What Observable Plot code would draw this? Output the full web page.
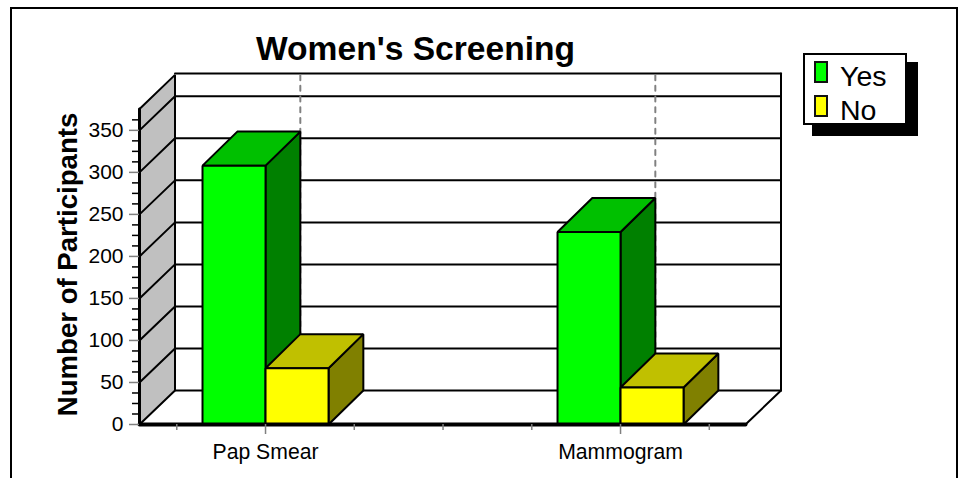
<!DOCTYPE html>
<html>
<head>
<meta charset="utf-8">
<script src="https://cdn.jsdelivr.net/npm/d3@7"></script>
<script src="https://cdn.jsdelivr.net/npm/@observablehq/plot@0.6"></script>
<style>
  html, body { margin: 0; padding: 0; background: #fff; width: 959px; height: 478px; overflow: hidden; }
  #wrap { position: relative; width: 959px; height: 478px; overflow: hidden; font-family: "Liberation Sans", Arial, sans-serif; }
  #frame { position: absolute; left: 10px; top: 7px; width: 944px; height: 500px; border: 2px solid #000; }
  #legend { position: absolute; left: 803px; top: 53px; width: 100px; height: 68px; border: 2px solid #000; background: #fff; box-shadow: 10px 10px 0 1px #000; }
  .sw { position: absolute; left: 9px; width: 10px; height: 18px; border: 2px solid #111; }
  .lb { position: absolute; left: 35px; font-size: 28.5px; line-height: 30px; color: #000; }
  svg { position: absolute; left: 0; top: 0; }
</style>
</head>
<body>
<div id="wrap"><div id="frame"></div></div>
<script>
const title = "Women's Screening";
const yLabel = "Number of Participants";
const categories = ["Pap Smear", "Mammogram"];
const yesValues = [308, 229];
const noValues = [67, 44];
const seriesNames = ["Yes", "No"];
const frontColors = ["#00ff00", "#ffff00"];
const topColors = ["#00c000", "#c0c000"];
const sideColors = ["#008000", "#808000"];
const majorTicks = [0, 50, 100, 150, 200, 250, 300, 350];
const minorTicks = [12.5, 25, 37.5, 62.5, 75, 87.5, 112.5, 125, 137.5, 162.5, 175, 187.5, 212.5, 225, 237.5, 262.5, 275, 287.5, 312.5, 325, 337.5, 362.5];
const xMinorTicks = [-0.25, 0.25, 0.5, 0.75, 1.25];

// Extents and 3D depth, in data units
const xMin = -0.355, xMax = 1.352, yTop = 377;
const depthX = 0.098, wallX = 0.1, depthY = 40.5, barW = 0.1775;
const ink = {stroke: "#000", strokeWidth: 2, strokeLinejoin: "miter"};

const poly = (pts, fill, extra = {}) =>
  Plot.line(pts, {x: "0", y: "1", fill, ...ink, curve: "linear-closed", ...extra});
const seg = (pts, extra = {}) =>
  Plot.line(pts, {x: "0", y: "1", ...ink, ...extra});

function box(x0, x1, v, i) {
  return [
    poly([[x1, 0], [x1 + depthX, depthY], [x1 + depthX, v + depthY], [x1, v]], sideColors[i]),
    poly([[x0, v], [x1, v], [x1 + depthX, v + depthY], [x0 + depthX, v + depthY]], topColors[i]),
    poly([[x0, 0], [x1, 0], [x1, v], [x0, v]], frontColors[i])
  ];
}

const backLevels = majorTicks.concat([yTop]);

const chart = Plot.plot({
  width: 959,
  height: 478,
  marginLeft: 139,
  marginRight: 214,
  marginTop: 108,
  marginBottom: 54,
  style: {background: "transparent", fontFamily: "'Liberation Sans', Arial, sans-serif", color: "#000"},
  x: {domain: [xMin, xMax]},
  y: {domain: [0, yTop - 1]},
  marks: [
    // left wall
    poly([[xMin, 0], [xMin + wallX, depthY], [xMin + wallX, yTop + depthY - 1.5], [xMin, yTop - 1.5]], "#c0c0c0"),
    // back wall gridlines and wall-side gridlines
    ...backLevels.map(v => seg([[xMin + wallX, v + depthY], [xMax + wallX, v + depthY]])),
    ...majorTicks.slice(1).map(v => seg([[xMin, v], [xMin + wallX, v + depthY]])),
    // right edge and floor edge
    seg([[xMax + wallX, depthY], [xMax + wallX, yTop + depthY]]),
    seg([[xMax, 0], [xMax + wallX, depthY]]),
    // dashed category lines on the back wall
    ...categories.map((c, i) => Plot.line([[i + depthX, depthY], [i + depthX, yTop + depthY]],
      {x: "0", y: "1", stroke: "#808080", strokeWidth: 2, strokeDasharray: "5,5.7"})),
    // bars
    ...categories.flatMap((c, i) => [
      ...box(i - barW, i, yesValues[i], 0),
      ...box(i, i + barW, noValues[i], 1)
    ]),
    // front axes
    seg([[xMin, 0], [xMin, yTop - 1.5]], {strokeWidth: 3}),
    seg([[xMin, 0], [xMax, 0]], {strokeWidth: 4}),
    Plot.axisY(minorTicks, {anchor: "left", tickSize: 7, text: null, stroke: "#000", strokeWidth: 1.5, label: null}),
    Plot.axisY(majorTicks, {anchor: "left", tickSize: 10, tickPadding: 6, stroke: "#808080", strokeWidth: 1.5,
      fontSize: 21, color: "#000", label: null}),
    Plot.axisX(xMinorTicks, {anchor: "bottom", tickSize: 6, text: null, stroke: "#808080", strokeWidth: 1.5, label: null}),
    Plot.axisX([0, 1], {anchor: "bottom", tickSize: 10, tickPadding: 9, stroke: "#808080", strokeWidth: 1.5,
      fontSize: 21.2, color: "#000", label: null, tickFormat: i => categories[i]}),
    // texts
    Plot.text([title], {frameAnchor: "top", dx: -27, dy: -49, lineAnchor: "bottom", text: d => d,
      fontSize: 33.6, fontWeight: "bold", fill: "#000"}),
    Plot.text([yLabel], {frameAnchor: "left", textAnchor: "middle", dx: -71, dy: -2, rotate: -90, text: d => d,
      fontSize: 27.6, fontWeight: "bold", fill: "#000"})
  ]
});
const wrap = document.getElementById("wrap");
wrap.appendChild(chart);

const legend = document.createElement("div");
legend.id = "legend";
seriesNames.forEach((name, i) => {
  const sw = document.createElement("div");
  sw.className = "sw";
  sw.style.top = (6 + i * 34) + "px";
  sw.style.background = frontColors[i];
  const lb = document.createElement("div");
  lb.className = "lb";
  lb.style.top = (6 + i * 34) + "px";
  lb.textContent = name;
  legend.append(sw, lb);
});
wrap.appendChild(legend);
</script>
</body>
</html>
